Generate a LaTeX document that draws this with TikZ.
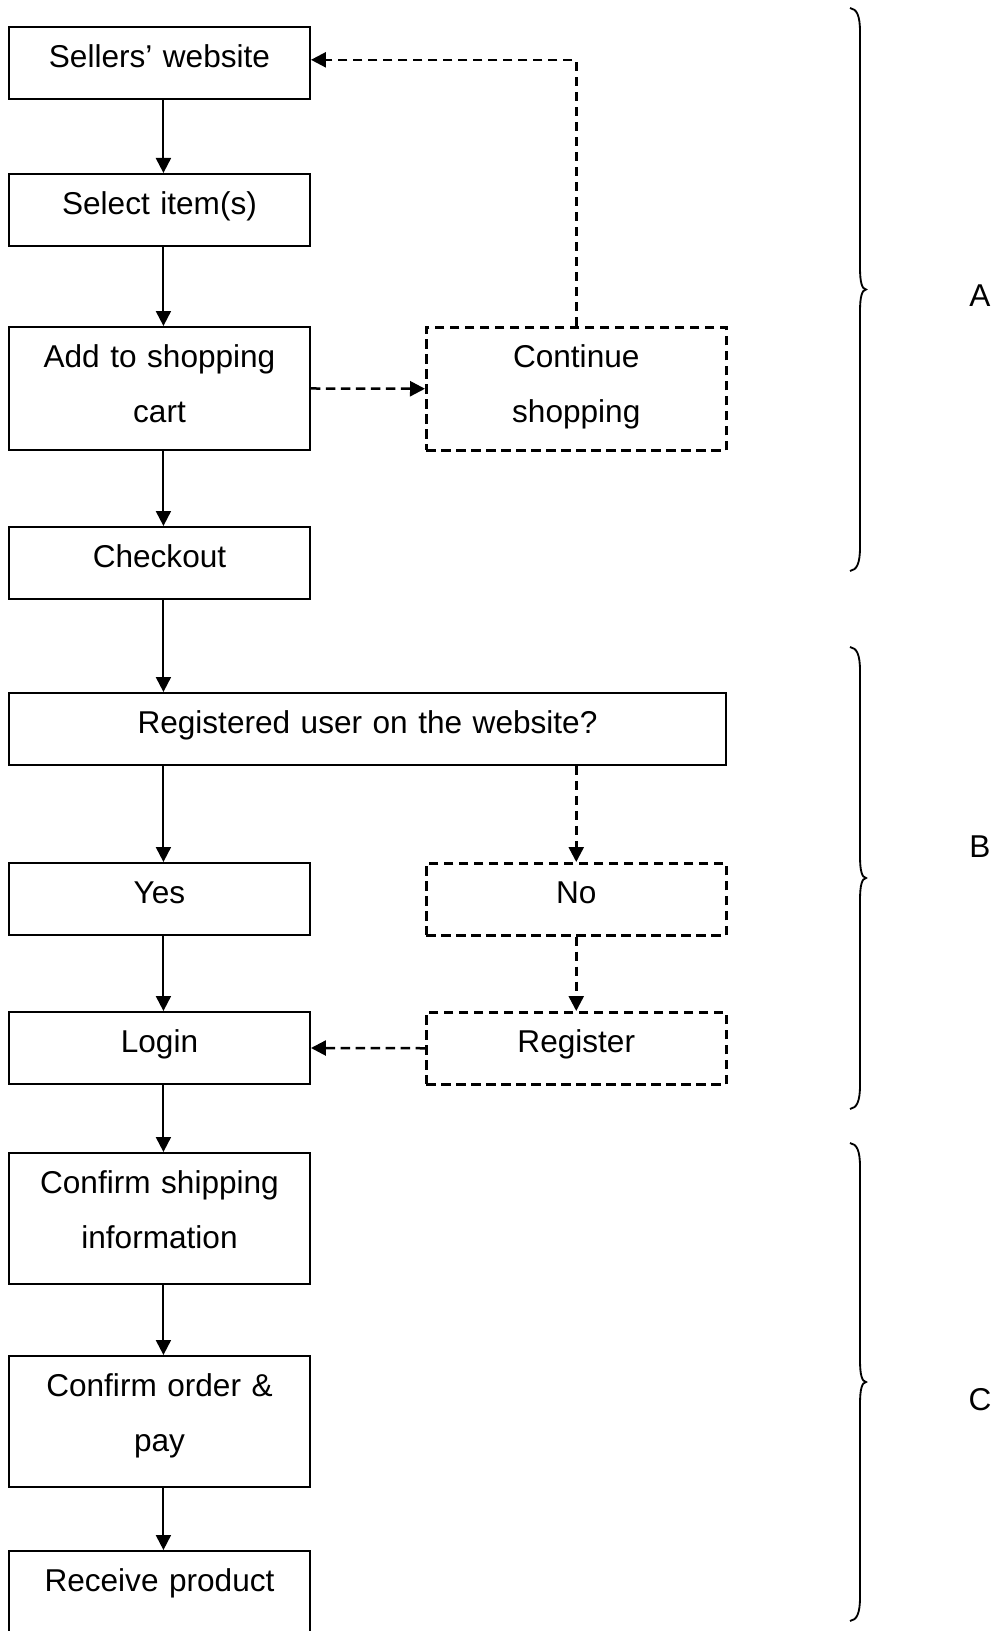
\documentclass[tikz,border=0pt]{standalone}
\usepackage{fontspec}
\setmainfont{Liberation Sans}
\usetikzlibrary{arrows.meta}
% right-hand curly brace: top y, bottom y, tip y (x fixed)
\newcommand{\sidebrace}[3]{%
  \draw[bracestyle] (850,#1) .. controls (857,{#1+1}) and (860,{#1+8}) .. (860,{#1+24})
    -- (860,{#3-22}) .. controls (860,{#3-7}) and (862,{#3-0.5}) .. (866,#3)
    .. controls (862,{#3+0.5}) and (860,{#3+7}) .. (860,{#3+22})
    -- (860,{#2-24}) .. controls (860,{#2-8}) and (857,{#2-1}) .. (850,#2);}
\begin{document}
\begin{tikzpicture}[x=0.38pt, y=-0.38pt,
  every node/.style={font=\fontsize{12}{20.9}\selectfont},
  stepbox/.style={draw, line width=0.75pt, inner sep=0pt, anchor=north west,
    align=center, text width=114.38pt, text height=15.4pt, text depth=11.96pt},
  twoline/.style={text depth=31.34pt},
  tallbox/.style={text depth=34.38pt},
  dashline/.style={line width=0.95pt, dash pattern=on 3.6pt off 2.1pt},
  sidebox/.style={stepbox, dashline, text width=114pt},
  flow/.style={line width=0.75pt, -{Triangle[length=5.7pt,width=5.7pt]}},
  optflow/.style={flow, dashline},
  bracestyle/.style={line width=0.7pt},
  grouplabel/.style={anchor=center}]
\clip (0,0) rectangle (998,1631);

% main column
\node[stepbox] (sellers) at (8,26) {Sellers’ website};
\node[stepbox] (select) at (8,173) {Select item(s)};
\node[stepbox, twoline] (cart) at (8,326) {Add to shopping\\cart};
\node[stepbox] (checkout) at (8,526) {Checkout};
\node[stepbox, text width=272.46pt] (registered) at (8,692) {Registered user on the website?};
\node[stepbox] (yes) at (8,862) {Yes};
\node[stepbox] (login) at (8,1011) {Login};
\node[stepbox, tallbox] (shipping) at (8,1152) {Confirm shipping\\information};
\node[stepbox, tallbox] (order) at (8,1355) {Confirm order \&\\pay};
\node[stepbox, text depth=30pt] (receive) at (8,1550) {Receive product};

% optional branches
\node[sidebox, twoline] (continue) at (425,326) {Continue\\shopping};
\node[sidebox] (no) at (425,862) {No};
\node[sidebox] (register) at (425,1011) {Register};

% solid connectors
\draw[flow] ([xshift=1.5pt]sellers.south) -- ([xshift=1.5pt]select.north);
\draw[flow] ([xshift=1.5pt]select.south) -- ([xshift=1.5pt]cart.north);
\draw[flow] ([xshift=1.5pt]cart.south) -- ([xshift=1.5pt]checkout.north);
\draw[flow] ([xshift=1.5pt]checkout.south) -- ([xshift=1.5pt]checkout.south |- registered.north);
\draw[flow] ([xshift=1.5pt]yes.north |- registered.south) -- ([xshift=1.5pt]yes.north);
\draw[flow] ([xshift=1.5pt]yes.south) -- ([xshift=1.5pt]login.north);
\draw[flow] ([xshift=1.5pt]login.south) -- ([xshift=1.5pt]shipping.north);
\draw[flow] ([xshift=1.5pt]shipping.south) -- ([xshift=1.5pt]order.north);
\draw[flow] ([xshift=1.5pt]order.south) -- ([xshift=1.5pt]receive.north);

% dashed connectors
\draw[optflow] (cart.east) -- (continue.west);
\draw[optflow] (continue.north) |- ([yshift=1.2pt]sellers.east);
\draw[optflow] (no.north |- registered.south) -- (no.north);
\draw[optflow] (no.south) -- (register.north);
\draw[optflow] (register.west) -- (login.east);

% phase braces
\sidebrace{8}{571}{289.5}
\sidebrace{647}{1109}{878}
\sidebrace{1143}{1621}{1382}
\node[grouplabel] (labA) at (980,296) {A};
\node[grouplabel] (labB) at (980,847) {B};
\node[grouplabel] (labC) at (980,1400) {C};
\end{tikzpicture}
\end{document}
